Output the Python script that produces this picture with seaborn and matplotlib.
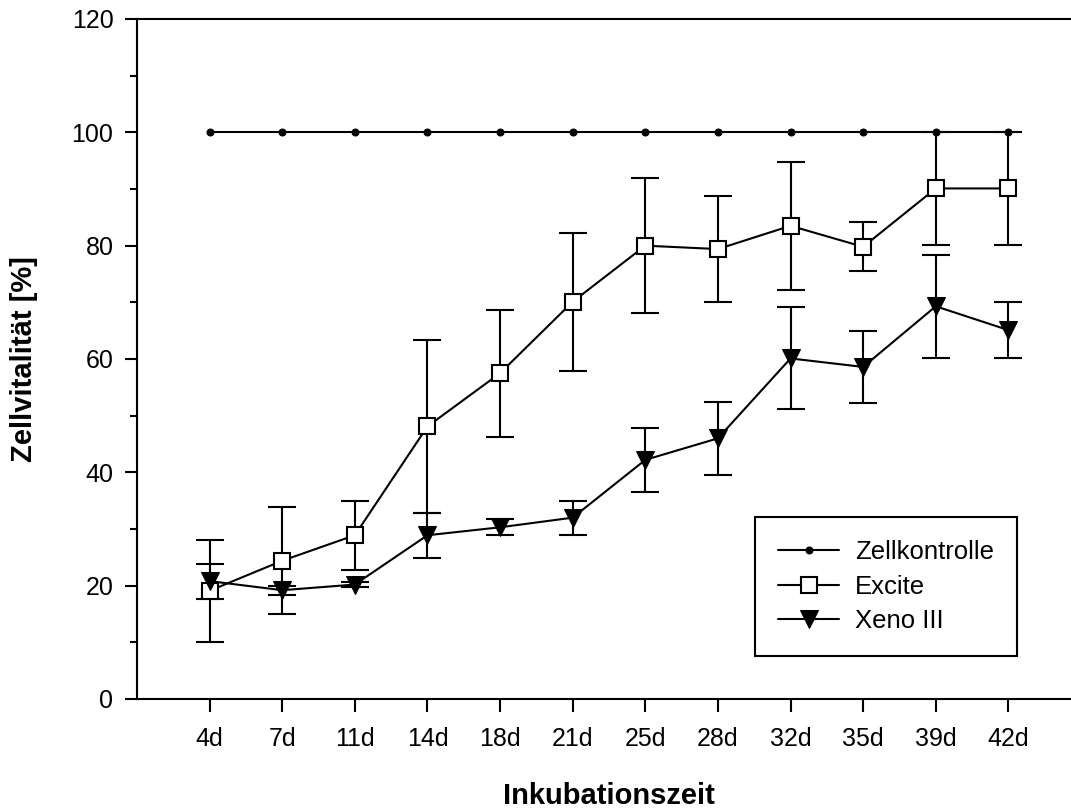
import matplotlib
matplotlib.use("Agg")
import matplotlib.pyplot as plt
import seaborn as sns
import pandas as pd
import numpy as np
from matplotlib.ticker import MultipleLocator

labels = ["4d", "7d", "11d", "14d", "18d", "21d", "25d", "28d", "32d", "35d", "39d", "42d"]
control = [100, 100, 100, 100, 100, 100, 100, 100, 100, 100, 100, 100]
excite = [19.1, 24.4, 28.9, 48.1, 57.5, 70.1, 80.0, 79.4, 83.5, 79.8, 90.1, 90.1]
excite_sd = [9.0, 9.4, 6.1, 15.2, 11.2, 12.2, 11.9, 9.3, 11.3, 4.3, 10.0, 9.9]
xeno = [20.8, 19.2, 20.2, 28.9, 30.3, 32.0, 42.2, 46.0, 60.1, 58.6, 69.3, 65.1]
xeno_sd = [3.1, 0.8, 0.5, 4.0, 1.4, 3.0, 5.6, 6.4, 9.0, 6.3, 9.1, 5.0]

sns.set_theme(style="ticks")
plt.rcParams['font.family'] = ['Liberation Sans', 'DejaVu Sans']
plt.rcParams['text.color'] = 'black'
plt.rcParams['axes.labelcolor'] = 'black'
plt.rcParams['xtick.color'] = 'black'
plt.rcParams['ytick.color'] = 'black'

fig = plt.figure(figsize=(10.71, 8.10), dpi=100)
ax = fig.add_axes([137 / 1071, 1 - 699 / 810, 944 / 1071, 680 / 810])

x = np.arange(1, len(labels) + 1)
df = pd.DataFrame({"x": x, "label": labels, "control": control,
                   "excite": excite, "excite_sd": excite_sd,
                   "xeno": xeno, "xeno_sd": xeno_sd})

lw = 1.5
ax.errorbar(df["x"], df["excite"], yerr=df["excite_sd"], fmt="none", ecolor="black",
            elinewidth=lw, capsize=10, capthick=lw, zorder=2)
ax.errorbar(df["x"], df["xeno"], yerr=df["xeno_sd"], fmt="none", ecolor="black",
            elinewidth=lw, capsize=10, capthick=lw, zorder=2)

sns.lineplot(data=df, x="x", y="control", ax=ax, color="black", linewidth=lw,
             marker="o", markersize=5, markerfacecolor="black", markeredgecolor="black",
             label="Zellkontrolle", zorder=3)
sns.lineplot(data=df, x="x", y="excite", ax=ax, color="black", linewidth=lw,
             marker="s", markersize=12, markerfacecolor="white", markeredgecolor="black",
             markeredgewidth=1.5, label="Excite", zorder=4)
sns.lineplot(data=df, x="x", y="xeno", ax=ax, color="black", linewidth=lw,
             marker="v", markersize=13, markerfacecolor="black", markeredgecolor="black",
             label="Xeno III", zorder=4)

ax.set_xlim(0, 13)
ax.set_ylim(0, 120)
ax.set_xticks(x)
ax.set_xticklabels(labels)
ax.yaxis.set_major_locator(MultipleLocator(20))
ax.yaxis.set_minor_locator(MultipleLocator(10))
ax.tick_params(axis="both", which="major", labelsize=18, length=9, width=1.5,
               color="black", labelcolor="black", direction="out")
ax.tick_params(axis="x", pad=11)
ax.tick_params(axis="y", which="minor", length=5, width=1.5, color="black")
ax.tick_params(axis="y", pad=8)

for side in ["left", "bottom", "top"]:
    ax.spines[side].set_visible(True)
    ax.spines[side].set_linewidth(1.5)
    ax.spines[side].set_color("black")
ax.spines["right"].set_visible(False)

ax.set_xlabel("Inkubationszeit", fontsize=21, fontweight="bold", va="center", color="black")
ax.xaxis.set_label_coords(0.5, (699 - 796) / 680)
ax.set_ylabel("Zellvitalität [%]", fontsize=21, fontweight="bold", va="center", color="black")
ax.yaxis.set_label_coords((24 - 137) / 944, 0.5)

leg = ax.legend(loc="lower right", bbox_to_anchor=(1017 / 1071, 1 - 656 / 810),
                bbox_transform=fig.transFigure, fontsize=18.5, frameon=True,
                fancybox=False, edgecolor="black", handlelength=2.4,
                handletextpad=0.6, borderpad=0.9, labelspacing=0.4, borderaxespad=0,
                labelcolor="black")
leg.get_frame().set_linewidth(1.5)
leg.get_frame().set_alpha(1)

fig.savefig("out.png", dpi=100, facecolor="white")
